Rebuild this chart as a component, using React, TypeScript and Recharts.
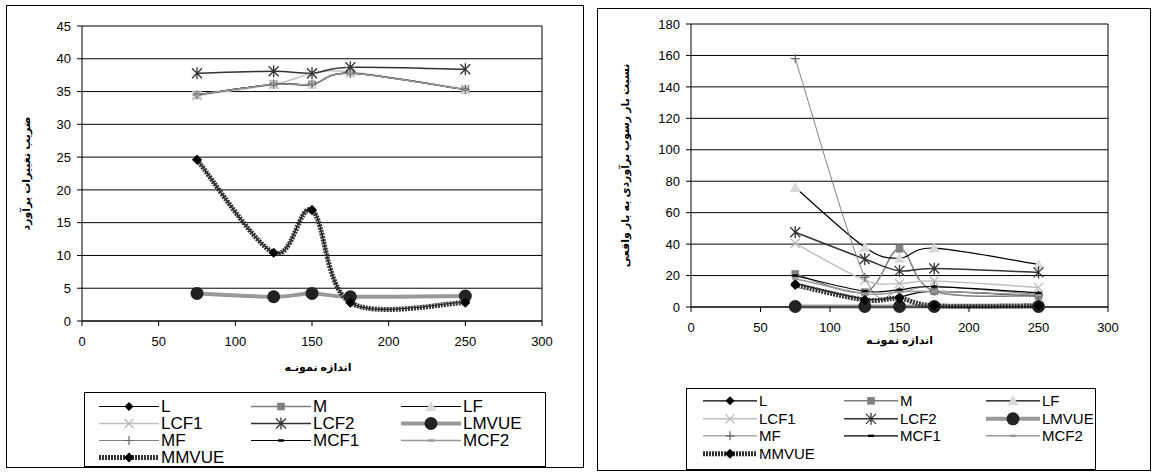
import React from 'react';
import { LineChart, Line, XAxis, YAxis, CartesianGrid, ReferenceLine, Label } from 'recharts';

// sample sizes on the x axis
const sampleSizes = [75, 125, 150, 175, 250];
const xTicks = [0, 50, 100, 150, 200, 250, 300];
const cvTicks = [0, 5, 10, 15, 20, 25, 30, 35, 40, 45];
const ratioTicks = [0, 20, 40, 60, 80, 100, 120, 140, 160, 180];
const seriesNames = ['L', 'M', 'LF', 'LCF1', 'LCF2', 'LMVUE', 'MF', 'MCF1', 'MCF2', 'MMVUE'];

// left chart: ضریب تغییرات برآورد
const cvL = [24.6, 10.4, 17.0, 2.8, 2.9];
const cvM = [34.5, 36.1, 36.1, 37.8, 35.3];
const cvLF = [34.5, 36.1, 36.1, 37.8, 35.3];
const cvLCF1 = [34.4, 36.1, 37.7, 38.0, 35.4];
const cvLCF2 = [37.8, 38.1, 37.8, 38.7, 38.4];
const cvLMVUE = [4.2, 3.7, 4.2, 3.7, 3.8];
const cvMF = [34.5, 36.1, 36.1, 37.8, 35.3];
const cvMCF1 = [34.5, 36.1, 36.1, 37.8, 35.3];
const cvMCF2 = [34.5, 36.1, 36.1, 37.8, 35.3];
const cvMMVUE = [24.6, 10.4, 16.9, 2.8, 2.8];

// right chart: نسبت بار رسوب برآوردی به بار واقعی
const ratioL = [15, 5, 6.5, 10, 7];
const ratioM = [21, 9.5, 37, 10, 7];
const ratioLF = [76, 38, 31, 37.5, 27];
const ratioLCF1 = [40.5, 17, 15, 16.5, 12.5];
const ratioLCF2 = [47.5, 30.5, 23, 24.5, 22];
const ratioLMVUE = [0.3, 0.3, 0.3, 0.3, 0.3];
const ratioMF = [158, 19, 10, 13, 8];
const ratioMCF1 = [20, 10, 11, 13, 9];
const ratioMCF2 = [18, 8.5, 9.5, 10, 7.5];
const ratioMMVUE = [14, 4.5, 5.5, 0.8, 0.8];

const cvRows = sampleSizes.map((n, i) => {
  const src: Record<string, number[]> = {
    L: cvL, M: cvM, LF: cvLF, LCF1: cvLCF1, LCF2: cvLCF2,
    LMVUE: cvLMVUE, MF: cvMF, MCF1: cvMCF1, MCF2: cvMCF2, MMVUE: cvMMVUE,
  };
  const row: any = { n };
  seriesNames.forEach((k) => (row[k] = src[k][i]));
  return row;
});

const ratioRows = sampleSizes.map((n, i) => {
  const src: Record<string, number[]> = {
    L: ratioL, M: ratioM, LF: ratioLF, LCF1: ratioLCF1, LCF2: ratioLCF2,
    LMVUE: ratioLMVUE, MF: ratioMF, MCF1: ratioMCF1, MCF2: ratioMCF2, MMVUE: ratioMMVUE,
  };
  const row: any = { n };
  seriesNames.forEach((k) => (row[k] = src[k][i]));
  return row;
});

type Style = { stroke: string; width: number; dash?: string; marker: string; color: string; size: number };
const styles: Record<string, Style> = {
  L: { stroke: '#000', width: 1.2, marker: 'diamond', color: '#000', size: 4.5 },
  M: { stroke: '#808080', width: 1.5, marker: 'square', color: '#808080', size: 3.8 },
  LF: { stroke: '#000', width: 1.2, marker: 'triangle', color: '#d9d9d9', size: 5.5 },
  LCF1: { stroke: '#c0c0c0', width: 1.5, marker: 'cross', color: '#b8b8b8', size: 4.5 },
  LCF2: { stroke: '#333', width: 1.5, marker: 'star', color: '#333', size: 5 },
  LMVUE: { stroke: '#999', width: 4, marker: 'circle', color: '#222', size: 6.5 },
  MF: { stroke: '#808080', width: 1, marker: 'plus', color: '#666', size: 4.5 },
  MCF1: { stroke: '#000', width: 1.2, marker: 'dash', color: '#000', size: 3 },
  MCF2: { stroke: '#999', width: 1.5, marker: 'dash', color: '#999', size: 3 },
  MMVUE: { stroke: '#333', width: 5, dash: '2 1', marker: 'diamond', color: '#000', size: 5 },
};

// excel-like smoothed line (catmull-rom as cubic beziers)
const excelSmooth = (context: any) => {
  let pts: number[][] = [];
  return {
    areaStart() {},
    areaEnd() {},
    lineStart() { pts = []; },
    point(x: number, y: number) { pts.push([+x, +y]); },
    lineEnd() {
      const n = pts.length;
      if (!n) return;
      context.moveTo(pts[0][0], pts[0][1]);
      for (let i = 0; i < n - 1; i++) {
        const p0 = pts[Math.max(i - 1, 0)], p1 = pts[i], p2 = pts[i + 1], p3 = pts[Math.min(i + 2, n - 1)];
        context.bezierCurveTo(
          p1[0] + (p2[0] - p0[0]) / 6, p1[1] + (p2[1] - p0[1]) / 6,
          p2[0] - (p3[0] - p1[0]) / 6, p2[1] - (p3[1] - p1[1]) / 6,
          p2[0], p2[1]
        );
      }
    },
  };
};

const Marker = ({ shape, x, y, color, s }: { shape: string; x: number; y: number; color: string; s: number }) => {
  switch (shape) {
    case 'diamond':
      return <path d={`M${x},${y - s}L${x + s},${y}L${x},${y + s}L${x - s},${y}Z`} fill={color} />;
    case 'square':
      return <rect x={x - s} y={y - s} width={2 * s} height={2 * s} fill={color} />;
    case 'triangle':
      return <path d={`M${x},${y - s}L${x + s},${y + s * 0.8}L${x - s},${y + s * 0.8}Z`} fill={color} />;
    case 'cross':
      return <path d={`M${x - s},${y - s}L${x + s},${y + s}M${x - s},${y + s}L${x + s},${y - s}`} stroke={color} strokeWidth={1.3} />;
    case 'star':
      return <path d={`M${x - s},${y - s}L${x + s},${y + s}M${x - s},${y + s}L${x + s},${y - s}M${x},${y - s - 1}L${x},${y + s + 1}`} stroke={color} strokeWidth={1.3} />;
    case 'circle':
      return <circle cx={x} cy={y} r={s} fill={color} />;
    case 'plus':
      return <path d={`M${x - s},${y}L${x + s},${y}M${x},${y - s}L${x},${y + s}`} stroke={color} strokeWidth={1.2} />;
    default:
      return <rect x={x - s} y={y - 1.2} width={2 * s} height={2.4} fill={color} />;
  }
};

const FONT = 'Arial, "Liberation Sans", "DejaVu Sans", sans-serif';

type PanelProps = {
  rows: any[];
  yTicks: number[];
  chartLeft: number;
  width: number;
  height: number;
  margin: { top: number; right: number; left: number; bottom: number };
  xAxisHeight: number;
  yLabel: string;
  yLabelX: number;
  xLabelDx: number;
  box: { left: number; top: number; width: number; height: number };
  legend: { left: number; top: number; width: number; height: number; padTop: number; rowH: number; cols: number[]; lineW: number; fontSize: number };
};

const Panel = (p: PanelProps) => {
  const yMax = p.yTicks[p.yTicks.length - 1];
  const lg = p.legend;
  return (
    <>
      <div style={{ position: 'absolute', left: p.box.left, top: p.box.top, width: p.box.width, height: p.box.height, border: '1px solid #000', boxSizing: 'border-box' }} />
      <div style={{ position: 'absolute', left: p.chartLeft, top: 0 }}>
        <LineChart width={p.width} height={p.height} data={p.rows} margin={p.margin}>
          <CartesianGrid vertical={false} stroke="#000" strokeWidth={1} />
          <XAxis
            type="number"
            dataKey="n"
            domain={[0, 300]}
            ticks={xTicks}
            height={p.xAxisHeight}
            axisLine={{ stroke: '#000' }}
            tickLine={{ stroke: '#000' }}
            tickSize={5}
            tickMargin={11}
            tick={{ fontSize: 13, fill: '#000', fontFamily: FONT }}
          >
            <Label
              content={(props: any) => {
                const vb = props.viewBox;
                return (
                  <text x={vb.x + vb.width / 2 + p.xLabelDx} y={vb.y + vb.height} textAnchor="middle" fontSize={11} fontWeight="bold" fontFamily={FONT} fill="#000">
                    اندازه نمونـه
                  </text>
                );
              }}
            />
          </XAxis>
          <YAxis
            type="number"
            domain={[0, yMax]}
            ticks={p.yTicks}
            width={60}
            axisLine={{ stroke: '#000' }}
            tickLine={{ stroke: '#000' }}
            tickSize={5}
            tickMargin={6}
            tick={{ fontSize: 13, fill: '#000', fontFamily: FONT }}
          >
            <Label
              content={(props: any) => {
                const vb = props.viewBox;
                const cy = vb.y + vb.height / 2;
                return (
                  <text x={p.yLabelX} y={cy} transform={`rotate(-90 ${p.yLabelX} ${cy})`} textAnchor="middle" dominantBaseline="central" fontSize={11} fontWeight="bold" fontFamily={FONT} fill="#000">
                    {p.yLabel}
                  </text>
                );
              }}
            />
          </YAxis>
          <ReferenceLine x={300} stroke="#000" />
          {seriesNames.map((name) => {
            const st = styles[name];
            return (
              <Line
                key={name}
                dataKey={name}
                type={excelSmooth as any}
                stroke={st.stroke}
                strokeWidth={st.width}
                strokeDasharray={st.dash}
                isAnimationActive={false}
                dot={(d: any) => <Marker key={`${name}-${d.index}`} shape={st.marker} x={d.cx} y={d.cy} color={st.color} s={st.size} />}
                activeDot={false}
              />
            );
          })}
        </LineChart>
      </div>
      <div style={{ position: 'absolute', left: lg.left, top: lg.top, width: lg.width, height: lg.height, border: '1px solid #000', boxSizing: 'border-box', fontFamily: FONT, fontSize: lg.fontSize }}>
        {seriesNames.map((name, i) => {
          const st = styles[name];
          const row = Math.floor(i / 3);
          const col = i % 3;
          const mid = lg.rowH / 2;
          return (
            <div key={name} style={{ position: 'absolute', left: lg.cols[col], top: lg.padTop + row * lg.rowH, height: lg.rowH, display: 'flex', alignItems: 'center', whiteSpace: 'nowrap' }}>
              <svg width={lg.lineW} height={lg.rowH} style={{ display: 'block' }}>
                <line x1={0} x2={lg.lineW} y1={mid} y2={mid} stroke={st.stroke} strokeWidth={st.width} strokeDasharray={st.dash} />
                <Marker shape={st.marker} x={lg.lineW / 2} y={mid} color={st.color} s={st.size} />
              </svg>
              <span style={{ lineHeight: `${lg.rowH}px`, marginLeft: 2 }}>{name}</span>
            </div>
          );
        })}
      </div>
    </>
  );
};

export default function App() {
  return (
    <div style={{ position: 'absolute', left: 0, top: 0, width: 1157, height: 473, background: '#fff', overflow: 'hidden' }}>
      <Panel
        rows={cvRows}
        yTicks={cvTicks}
        chartLeft={0}
        width={580}
        height={400}
        margin={{ top: 26, right: 38, left: 22, bottom: 29 }}
        xAxisHeight={50}
        yLabel="ضریب تغییرات برآورد"
        yLabelX={26}
        xLabelDx={6}
        box={{ left: 6, top: 5, width: 578, height: 463 }}
        legend={{ left: 84, top: 392, width: 462, height: 75, padTop: 4.5, rowH: 17, cols: [14, 166, 316], lineW: 60, fontSize: 17 }}
      />
      <Panel
        rows={ratioRows}
        yTicks={ratioTicks}
        chartLeft={597}
        width={560}
        height={400}
        margin={{ top: 24, right: 49, left: 34, bottom: 56 }}
        xAxisHeight={37}
        yLabel="نسبت بار رسوب برآوردی به بار واقعی"
        yLabelX={28}
        xLabelDx={0}
        box={{ left: 597, top: 8, width: 554, height: 463 }}
        legend={{ left: 686, top: 388, width: 410, height: 82, padTop: 3, rowH: 17.7, cols: [16, 157, 299], lineW: 54, fontSize: 15 }}
      />
    </div>
  );
}
